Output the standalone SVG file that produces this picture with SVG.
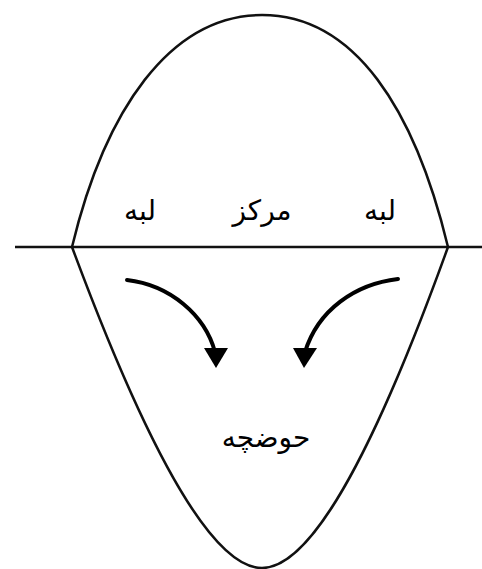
<svg xmlns="http://www.w3.org/2000/svg" width="482" height="569" viewBox="0 0 482 569">
<defs>
<style>
.ln{fill:none;stroke:#111;stroke-width:2.5}
.ar{fill:none;stroke:#000;stroke-width:4;stroke-linecap:round}
.t{font-family:"DejaVu Sans","Noto Sans",sans-serif;font-size:28px;fill:#000;text-anchor:middle}
</style>
</defs>
<rect width="482" height="569" fill="#fff"/>
<g id="shape">
<line class="ln" x1="15" y1="247" x2="482" y2="247"/>
<path class="ln" d="M72,247 C105,110 170,15 262,15 C355,15 415,110 448,247"/>
<path class="ln" d="M72,247 C140,430 208,568 262,568 C316,568 382,430 448,247"/>
</g>
<g id="connectors">
<path class="ar" d="M127,280 C170,285 205,315 215,352"/>
<polygon points="204,348 228,348 216,368" fill="#000"/>
<path class="ar" d="M398,279 C355,284 318,310 305,352"/>
<polygon points="293,348 317,348 304,368" fill="#000"/>
</g>
<g id="labels">
<text class="t" x="140" y="220">لبه</text>
<text class="t" x="262" y="220">مرکز</text>
<text class="t" x="380" y="220">لبه</text>
<text class="t" x="266" y="447">حوضچه</text>
</g>
</svg>
